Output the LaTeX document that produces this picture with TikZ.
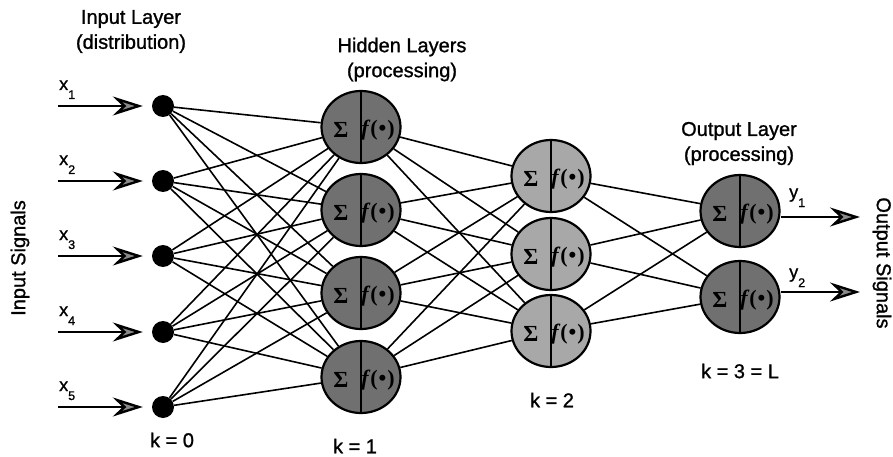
\documentclass[tikz,border=0pt]{standalone}
\usepackage{fontspec}
\setmainfont{Liberation Sans}
\newfontfamily\capfont{Liberation Sans}[FakeBold=1.1]
\newfontfamily\cellfont{Liberation Serif}
\usetikzlibrary{arrows.meta,shapes.geometric,backgrounds}

\definecolor{cellDark}{HTML}{707070}
\definecolor{cellLight}{HTML}{A8A8A8}
\definecolor{tipGray}{HTML}{8A8A8A}

\begin{document}
\begin{tikzpicture}[x=1pt,y=-1pt,
  caption/.style={font=\capfont\fontsize{20}{25}\selectfont, align=center, inner sep=0pt},
  sublabel/.style={font=\capfont\fontsize{18}{18}\selectfont, inner sep=0pt, anchor=base west},
  inputdot/.style={circle, fill=black, minimum size=22pt, inner sep=0pt},
  neuron/.style={ellipse, draw=black, line width=2.2pt, minimum width=79pt,
    minimum height=72pt, inner sep=0pt,
    path picture={
      \draw[line width=2.2pt] (path picture bounding box.north) -- (path picture bounding box.south);
      \node[font=\cellfont\bfseries\fontsize{23}{23}\selectfont, inner sep=0pt]
        at ([xshift=-20pt,yshift=-3pt]path picture bounding box.center) {Σ};
      \node[font=\cellfont\bfseries\fontsize{22}{22}\selectfont, inner sep=0pt]
        at ([xshift=17pt,yshift=-3pt]path picture bounding box.center) {\textit{f}(\kern1pt•\kern1pt)};
    }},
  darkcell/.style={neuron, fill=cellDark},
  lightcell/.style={neuron, fill=cellLight},
  link/.style={line width=1.6pt},
  sig/.style={line width=2.4pt, -{Stealth[length=30pt, width=19pt, inset=10pt, fill=tipGray]}}
]
\useasboundingbox (0,0) rectangle (893,457);

% input layer (distribution)
\foreach \i/\y in {1/106, 2/181, 3/256, 4/332, 5/407} {
  \node[inputdot] (i\i) at (163,\y) {};
  \coordinate (s\i) at (58,\y);
  \node[sublabel] (xl\i) at (59,\y-16) {x\raisebox{-9pt}{\fontsize{12.5}{12.5}\selectfont\i}};
  \draw[sig, shorten >=9pt] (s\i) -- (i\i);
}

% first hidden layer
\foreach \i/\y in {1/127, 2/210, 3/293, 4/377}
  \node[darkcell] (h\i) at (361,\y) {};

% second hidden layer
\foreach \i/\y in {1/176, 2/254, 3/331}
  \node[lightcell] (g\i) at (551,\y) {};

% output layer
\foreach \i/\y in {1/211, 2/297}
  \node[darkcell] (o\i) at (740,\y) {};

% full connections between successive layers
\begin{scope}[on background layer]
  \foreach \a in {1,...,5} \foreach \b in {1,...,4} \draw[link] (i\a) -- (h\b);
  \foreach \a in {1,...,4} \foreach \b in {1,...,3} \draw[link] (h\a) -- (g\b);
  \foreach \a in {1,...,3} \foreach \b in {1,2} \draw[link] (g\a) -- (o\b);
\end{scope}

% output signals
\coordinate (e1) at (860,217);
\coordinate (e2) at (860,292);
\draw[sig] (o1.east |- e1) -- (e1);
\draw[sig] (o2.east |- e2) -- (e2);
\node[sublabel] (yl1) at (789,198) {y\raisebox{-9pt}{\fontsize{12.5}{12.5}\selectfont 1}};
\node[sublabel] (yl2) at (789,278) {y\raisebox{-9pt}{\fontsize{12.5}{12.5}\selectfont 2}};

% layer captions
\node[caption] (capIn) at (131,31.5) {Input Layer\\(distribution)};
\node[caption] (capHid) at (402,59.5) {Hidden Layers\\(processing)};
\node[caption] (capOut) at (739,143.5) {Output Layer\\(processing)};

\node[caption] (k0) at (172,440) {k = 0};
\node[caption] (k1) at (355,446) {k = 1};
\node[caption] (k2) at (552,400) {k = 2};
\node[caption] (k3) at (740,371) {k = 3 = L};

\node[caption, rotate=90] (sigIn) at (20,258) {Input Signals};
\node[caption, rotate=-90] (sigOut) at (882,263) {Output Signals};
\end{tikzpicture}
\end{document}
